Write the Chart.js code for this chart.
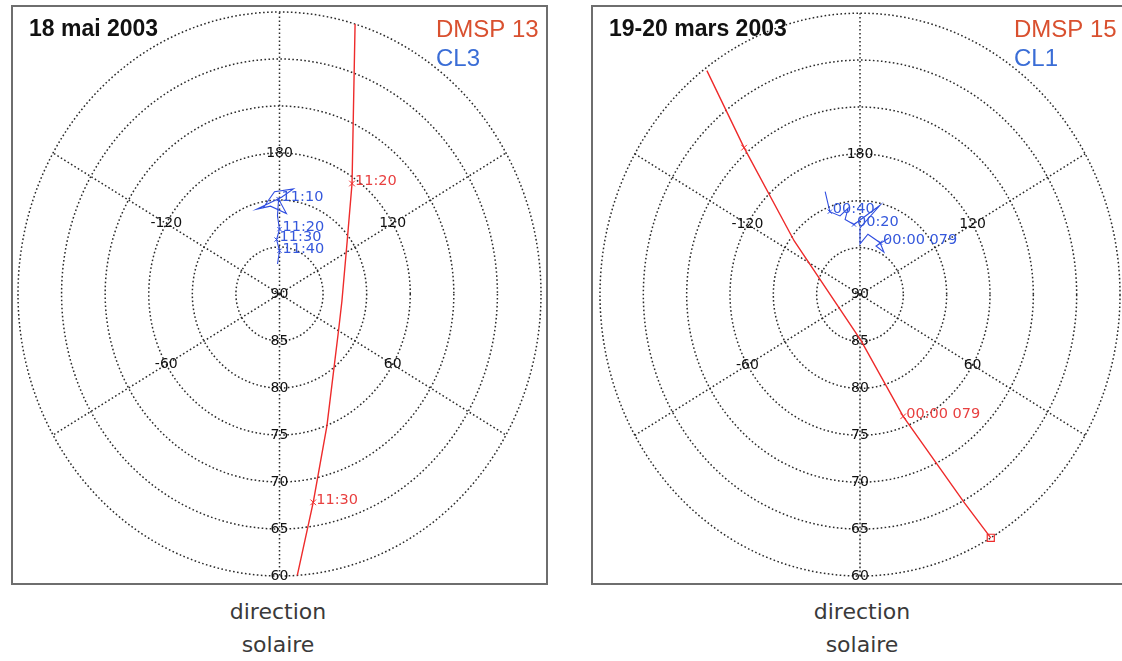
<!DOCTYPE html>
<html lang="fr">
<head>
<meta charset="utf-8">
<title>DMSP / Cluster</title>
<script src="https://cdn.jsdelivr.net/npm/chart.js@4.4.1/dist/chart.umd.min.js"></script>
<style>
  html, body { margin: 0; padding: 0; background: #fff; width: 1122px; height: 661px; overflow: hidden; }
  .panel { position: absolute; top: 5px; height: 580px; border: 2px solid #6e6e6e; box-sizing: border-box; background: #fff; }
  #panel1 { left: 11px; width: 537px; }
  #panel2 { left: 591px; width: 545px; }
  .panel canvas { position: absolute; left: 0; top: 0; }
  .caption { position: absolute; top: 595px; width: 240px; text-align: center; font: 22px "DejaVu Sans", sans-serif; line-height: 33px; color: #3a3a3a; }
</style>
</head>
<body>
<div class="panel" id="panel1"><canvas id="chart1" width="533" height="576"></canvas></div>
<div class="panel" id="panel2"><canvas id="chart2" width="541" height="576"></canvas></div>
<div class="caption" style="left:158px">direction<br>solaire</div>
<div class="caption" style="left:742px">direction<br>solaire</div>

<script>
// grille polaire (latitude magnetique / longitude, 0 = direction solaire en bas)
const ringLats = [85, 80, 75, 70, 65, 60];
const meridians = [0, 60, 120, 180, -120, -60];
const latTicks = [90, 85, 80, 75, 70, 65, 60];
const lonTicks = [180, 120, -120, 60, -60];
const lonTickLat = 75;

// 18 mai 2003 - DMSP 13
const dmsp13Lat = [60.0, 75.6, 80.4, 82.8, 82.3, 75.0, 67.5, 60.0];
const dmsp13Lon = [163.2, 144.7, 126.0, 84.1, 62.2, 21.3, 9.9, 3.9];
const dmsp13TickLat = [75.6, 67.5];
const dmsp13TickLon = [144.7, 9.9];
const dmsp13TickText = ["11:20", "11:30"];

// 18 mai 2003 - CL3
const cl3Lat = [80.7, 79.1, 78.7, 79.7, 80.6, 80.6, 81.4, 79.9, 81.7, 83.1, 84.2, 85.4, 86.8];
const cl3Lon = [-168.0, -177.0, 171.9, 178.7, -163.8, -173.7, 174.7, -179.4, -178.4, 180, -176.7, 180, -175.9];
const cl3TickLat = [79.9, 83.1, 84.2, 85.4];
const cl3TickLon = [-179.4, 180, -176.7, 180];
const cl3TickText = ["11:10", "11:20", "11:30", "11:40"];

// 19-20 mars 2003 - DMSP 15
const dmsp15Lat = [60.3, 69.4, 80.5, 85.1, 76.1, 64.7, 60.0];
const dmsp15Lon = [-143.5, -139.5, -127.0, 1.4, 21.0, 28.5, 30.2];
const dmsp15TickLat = [69.4, 76.1];
const dmsp15TickLon = [-139.5, 21.0];
const dmsp15TickText = ["", "00:00 079"];

// 19-20 mars 2003 - CL1
const cl1Lat = [78.3, 80.5, 81.3, 80.7, 81.8, 82.5, 80.2, 82.9, 84.6, 83.5, 84.0, 84.7, 84.5, 83.1];
const cl1Lon = [-159.9, -158.5, -164.6, -171.5, -167.9, -174.7, 166.4, 180, 180, 171.9, 157.3, 148.7, 160.4, 151.1];
const cl1TickLat = [80.5, 82.5, 84.0];
const cl1TickLon = [-158.5, -174.7, 157.3];
const cl1TickText = ["00:40", "00:20", "00:00 079"];

const RED = "#ee2b2b";
const BLUE = "#2f4de0";

function toXY(lat, lon) {
  const c = 90 - lat;
  const a = lon * Math.PI / 180;
  return { x: c * Math.sin(a), y: -c * Math.cos(a) };
}

function track(lats, lons) {
  return lats.map((lat, i) => toXY(lat, lons[i]));
}

const polarGrid = {
  id: "polarGrid",
  beforeDatasetsDraw(chart) {
    const { ctx, scales: { x, y } } = chart;
    const cx = x.getPixelForValue(0), cy = y.getPixelForValue(0);
    ctx.save();
    ctx.strokeStyle = "#2a2a2a";
    ctx.lineWidth = 1.5;
    ctx.setLineDash([1.6, 2.4]);
    ringLats.forEach((lat) => {
      const c = 90 - lat;
      const rx = x.getPixelForValue(c) - cx;
      const ry = cy - y.getPixelForValue(c);
      ctx.beginPath();
      ctx.ellipse(cx, cy, rx, ry, 0, 0, 2 * Math.PI);
      ctx.stroke();
    });
    meridians.forEach((lon) => {
      const p = toXY(60, lon);
      ctx.beginPath();
      ctx.moveTo(cx, cy);
      ctx.lineTo(x.getPixelForValue(p.x), y.getPixelForValue(p.y));
      ctx.stroke();
    });
    ctx.setLineDash([]);
    ctx.fillStyle = "#111";
    ctx.font = '14px "DejaVu Sans", sans-serif';
    ctx.textAlign = "center";
    ctx.textBaseline = "middle";
    latTicks.forEach((lat) => {
      const p = toXY(lat, 0);
      ctx.fillText(String(lat), x.getPixelForValue(p.x), y.getPixelForValue(p.y));
    });
    lonTicks.forEach((lon) => {
      const p = toXY(lonTickLat, lon);
      ctx.fillText(String(lon), x.getPixelForValue(p.x), y.getPixelForValue(p.y));
    });
    ctx.restore();
  },
  afterDatasetsDraw(chart, args, opts) {
    const { ctx, scales: { x, y } } = chart;
    ctx.save();
    ctx.font = '14.5px "DejaVu Sans", sans-serif';
    ctx.textAlign = "left";
    ctx.textBaseline = "middle";
    (opts.timeLabels || []).forEach((set) => {
      ctx.fillStyle = set.color;
      set.text.forEach((t, i) => {
        if (!t) return;
        const p = toXY(set.lat[i], set.lon[i]);
        ctx.fillText(t, x.getPixelForValue(p.x) + 3, y.getPixelForValue(p.y) - 2);
      });
    });
    // titres
    ctx.fillStyle = "#111";
    ctx.font = 'bold 23px "Liberation Sans", Arial, sans-serif';
    ctx.fillText(opts.title, 16, 23);
    ctx.font = '24px "Liberation Sans", Arial, sans-serif';
    ctx.fillStyle = "#d9502f";
    ctx.fillText(opts.sat, opts.satX, 23);
    ctx.fillStyle = "#3a6dd6";
    ctx.fillText(opts.cl, opts.satX, 52);
    ctx.restore();
  }
};

function makePanel(canvasId, cfg) {
  const ctx = document.getElementById(canvasId).getContext("2d");
  const datasets = [
    {
      data: track(cfg.dmspLat, cfg.dmspLon),
      showLine: true, borderColor: RED, borderWidth: 1.4, pointRadius: 0, tension: 0
    },
    {
      data: track(cfg.dmspTickLat, cfg.dmspTickLon),
      showLine: false, pointStyle: "crossRot", pointRadius: 4, borderColor: RED, borderWidth: 1
    },
    {
      data: track(cfg.clLat, cfg.clLon),
      showLine: true, borderColor: BLUE, borderWidth: 1.1, pointRadius: 0, tension: 0
    },
    {
      data: track(cfg.clTickLat, cfg.clTickLon),
      showLine: false, pointStyle: "crossRot", pointRadius: 3, borderColor: BLUE, borderWidth: 1
    }
  ];
  if (cfg.endMark) {
    const n = cfg.dmspLat.length - 1;
    datasets.push({
      data: [toXY(cfg.dmspLat[n], cfg.dmspLon[n])],
      showLine: false, pointStyle: "rect", pointRadius: 5, borderColor: RED, borderWidth: 1.2,
      backgroundColor: "rgba(0,0,0,0)"
    });
  }
  return new Chart(ctx, {
    type: "scatter",
    data: { datasets },
    options: {
      responsive: false,
      animation: false,
      layout: { padding: cfg.padding },
      scales: {
        x: { type: "linear", min: -30, max: 30, display: false },
        y: { type: "linear", min: -30, max: 30, display: false }
      },
      plugins: {
        legend: { display: false },
        tooltip: { enabled: false },
        polarGrid: {
          title: cfg.title, sat: cfg.sat, cl: cfg.cl, satX: cfg.satX,
          timeLabels: [
            { color: "#e84040", lat: cfg.dmspTickLat, lon: cfg.dmspTickLon, text: cfg.dmspTickText },
            { color: "#3558dc", lat: cfg.clTickLat, lon: cfg.clTickLon, text: cfg.clTickText }
          ]
        }
      }
    },
    plugins: [polarGrid]
  });
}

makePanel("chart1", {
  title: "18 mai 2003", sat: "DMSP 13", cl: "CL3", satX: 423,
  padding: { left: 3, right: 4, top: 3, bottom: 7 },
  dmspLat: dmsp13Lat, dmspLon: dmsp13Lon,
  dmspTickLat: dmsp13TickLat, dmspTickLon: dmsp13TickLon, dmspTickText: dmsp13TickText,
  clLat: cl3Lat, clLon: cl3Lon,
  clTickLat: cl3TickLat, clTickLon: cl3TickLon, clTickText: cl3TickText,
  endMark: false
});

makePanel("chart2", {
  title: "19-20 mars 2003", sat: "DMSP 15", cl: "CL1", satX: 421,
  padding: { left: 7, right: 14, top: 3, bottom: 7 },
  dmspLat: dmsp15Lat, dmspLon: dmsp15Lon,
  dmspTickLat: dmsp15TickLat, dmspTickLon: dmsp15TickLon, dmspTickText: dmsp15TickText,
  clLat: cl1Lat, clLon: cl1Lon,
  clTickLat: cl1TickLat, clTickLon: cl1TickLon, clTickText: cl1TickText,
  endMark: true
});
</script>
</body>
</html>
